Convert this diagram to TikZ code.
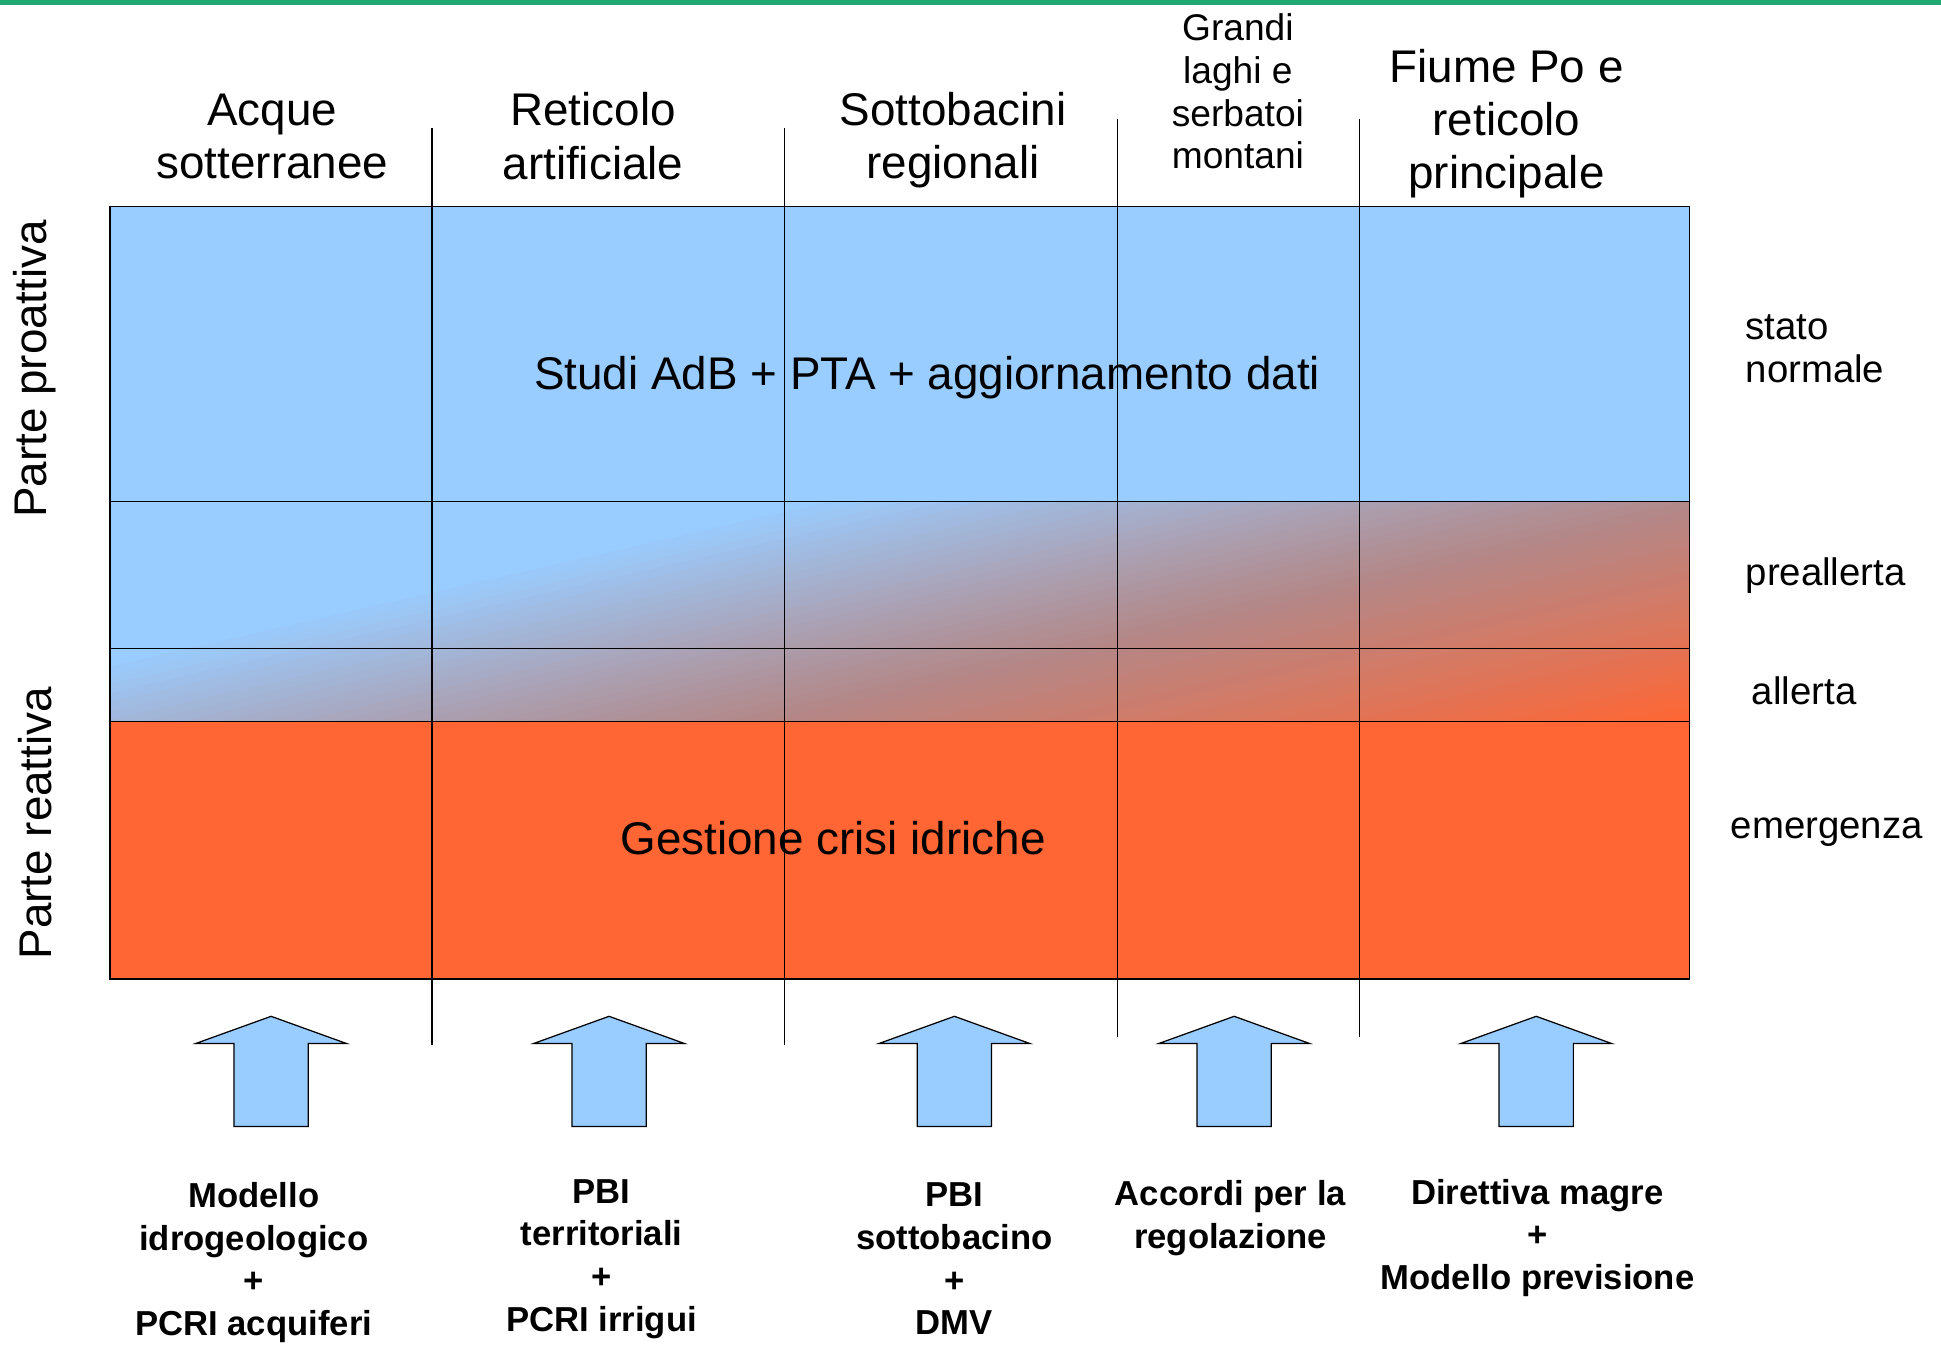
\documentclass[tikz,border=0pt]{standalone}
\usepackage{fontspec}
\setmainfont{Liberation Sans}
\definecolor{prevent}{HTML}{99CCFF}
\definecolor{crisis}{HTML}{FF6633}
\definecolor{topband}{HTML}{1FA874}

\begin{document}
\begin{tikzpicture}[x=1pt,y=-1pt,
  head/.style={align=center,font=\fontsize{37}{43}\selectfont},
  headsmall/.style={align=center,font=\fontsize{30}{34.5}\selectfont},
  level/.style={anchor=west,align=left,inner sep=0pt,font=\fontsize{31}{35}\selectfont},
  part/.style={rotate=90,font=\fontsize{37}{43}\selectfont},
  band/.style={font=\fontsize{37}{43}\selectfont},
  source/.style={align=center,font=\fontsize{28}{34.5}\selectfont\bfseries},
  grid/.style={line width=1pt},
  uparrow/.style={draw,fill=prevent,line width=1pt,line join=miter}]

\useasboundingbox (0,0) rectangle (1568,1087);
\fill[topband] (0,0) rectangle (1568,4);

% stati
\fill[prevent] (89,167) rectangle (1365,405);
\begin{scope}
\clip (89,405) rectangle (1365,583);
\fill[prevent] (89,405) rectangle (1365,583);
\begin{scope}[shift={(640,405)},rotate=12.9]
\foreach \i in {0,...,47} {
  \pgfmathsetmacro\t{\i*100/47}
  \pgfmathsetmacro\dk{100-12*(1-abs(2*\t/100-1))}
  \fill[crisis!\t!prevent!\dk!black] (-1700,\i*7) rectangle (1700,\i*7+7.6);
}
\fill[crisis] (-1700,336) rectangle (1700,900);
\end{scope}
\end{scope}
\fill[crisis] (89,583) rectangle (1365,791);

\draw[grid] (89,405) -- (1365,405);
\draw[grid] (89,524) -- (1365,524);
\draw[grid] (89,583) -- (1365,583);
\foreach \x/\t/\b in {349/103/844, 634/103/844, 903/96/838, 1098/96/838}
  \draw[grid] (\x,\t) -- (\x,\b);
\draw[line width=1.1pt] (89,167) rectangle (1365,791);

% colonne
\node[head] (acque) at (220,110) {Acque\\sotterranee};
\node[head] (reticolo) at (479,110) {Reticolo\\artificiale};
\node[head] (sottobacini) at (770,113) {Sottobacini\\regionali};
\node[headsmall] (laghi) at (1000,74) {Grandi\\laghi e\\serbatoi\\montani};
\node[head] (fiume) at (1217,100) {Fiume Po e\\reticolo\\principale};

\node[part] (proattiva) at (28,298) {Parte proattiva};
\node[part] (reattiva) at (28,665) {Parte reattiva};

\node[band] (studi) at (749,305) {Studi AdB + PTA + aggiornamento dati};
\node[band] (gestione) at (673,677) {Gestione crisi idriche};

\node[level] (normale) at (1410,282) {stato\\normale};
\node[level] (preallerta) at (1410,465) {preallerta};
\node[level] (allerta) at (1415,558) {allerta};
\node[level] (emergenza) at (1398,672) {emergenza};

% frecce
\foreach \c/\n in {219/tipa, 492/tipb, 771/tipc, 997/tipd, 1241/tipe} {
  \coordinate (\n) at (\c,821);
  \draw[uparrow] (\n) -- ++(61,22) -- ++(-31,0) -- ++(0,67) -- ++(-60,0)
    -- ++(0,-67) -- ++(-31,0) -- cycle;
}

\node[source] (modello) at (205,1020) {Modello\\idrogeologico\\+\\PCRI acquiferi};
\node[source] (territoriali) at (486,1017) {PBI\\territoriali\\+\\PCRI irrigui};
\node[source] (sottobacino) at (771,1017) {PBI\\sottobacino\\+\\DMV};
\node[source] (accordi) at (994,984) {Accordi per la\\regolazione};
\node[source] (direttiva) at (1242,1000) {Direttiva magre\\+\\Modello previsione};

\end{tikzpicture}
\end{document}
